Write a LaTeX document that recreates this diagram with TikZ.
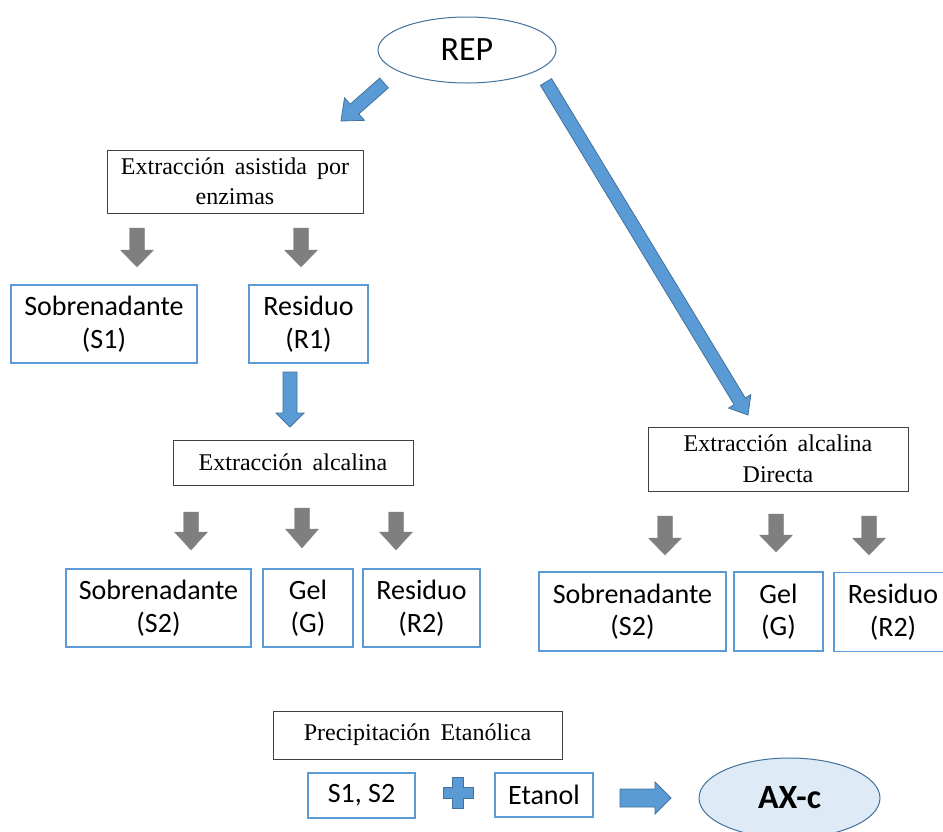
\documentclass[tikz,border=0pt]{standalone}
\usepackage{fontspec}
\setmainfont{Liberation Serif}
\newfontfamily\calib{Carlito}
\usetikzlibrary{calc,shapes.geometric}
\definecolor{ablue}{RGB}{91,155,213}
\definecolor{ablueline}{RGB}{65,113,156}
\definecolor{agray}{RGB}{127,127,127}
\definecolor{axfill}{RGB}{222,235,247}
\definecolor{boxline}{RGB}{64,64,64}
\newcommand{\widesp}{\spaceskip=0.42em\relax}
\newcommand{\blockarrow}[6]{%
  \coordinate (ba-h) at ($(#3)!#6!(#2)$);
  \path[#1] ($(#2)!#4!90:(#3)$) -- ($(ba-h)!#4!90:(#3)$) -- ($(ba-h)!#5!90:(#3)$) -- (#3)
    -- ($(ba-h)!#5!-90:(#3)$) -- ($(ba-h)!#4!-90:(#3)$) -- ($(#2)!#4!-90:(#3)$) -- cycle;}
\tikzset{
  bluebox/.style={draw=ablue, line width=1.3pt, rectangle, inner sep=0pt, align=center,
    font=\calib\fontsize{28}{32.5}\selectfont, text=black},
  serifbox/.style={draw=boxline, line width=0.9pt, rectangle, inner sep=0pt, align=center,
    font=\fontsize{24}{30.5}\selectfont\widesp, text=black},
  bluearrow/.style={fill=ablue, draw=ablueline, line width=0.8pt, line join=miter},
  grayarrow/.style={fill=agray, draw=agray, line width=0.3pt, line join=miter},
  ovalnode/.style={ellipse, draw=ablueline, line width=1pt, inner sep=0pt},
}
\begin{document}
\begin{tikzpicture}[x=1pt,y=-1pt]
\useasboundingbox (0,0) rectangle (943,831);
\clip (0,0) rectangle (943,831);
\fill[white] (0,0) rectangle (943,831);

% ovals
\node[ovalnode, fill=white, minimum width=178pt, minimum height=66pt,
  font=\calib\fontsize{34}{40}\selectfont] (rep) at (467,50) {REP};
\node[ovalnode, fill=axfill, minimum width=181pt, minimum height=80pt,
  font=\calib\bfseries\fontsize{34}{40}\selectfont] (axc) at (789.5,798) {AX-c};

% serif boxes
\node[serifbox, minimum width=256pt, minimum height=63pt] (eae) at (235,181.5)
  {Extracci\'on asistida por\\enzimas};
\node[serifbox, minimum width=240pt, minimum height=45pt] (ea) at (293,462.5)
  {Extracci\'on alcalina};
\node[serifbox, minimum width=260pt, minimum height=64pt] (ead) at (778,459)
  {Extracci\'on alcalina\\Directa};
\node[serifbox, minimum width=289pt, minimum height=48pt] (pe) at (417.5,735)
  {Precipitaci\'on Etan\'olica};

% blue boxes
\node[bluebox, minimum width=186pt, minimum height=78pt] (s1) at (104,324) {Sobrenadante\\(S1)};
\node[bluebox, minimum width=119pt, minimum height=78pt] (r1) at (308.5,324) {Residuo\\(R1)};
\node[bluebox, minimum width=185pt, minimum height=78pt] (s2a) at (158.5,608) {Sobrenadante\\(S2)};
\node[bluebox, minimum width=90pt, minimum height=78pt] (ga) at (308,608) {Gel\\(G)};
\node[bluebox, minimum width=117pt, minimum height=78pt] (r2a) at (421.5,608) {Residuo\\(R2)};
\node[bluebox, minimum width=187pt, minimum height=79pt] (s2b) at (632.5,611.5) {Sobrenadante\\(S2)};
\node[bluebox, minimum width=89pt, minimum height=79pt] (gb) at (778.5,611.5) {Gel\\(G)};
\node[bluebox, minimum width=118pt, minimum height=79pt] (r2b) at (893,612) {Residuo\\(R2)};
\node[bluebox, minimum width=107pt, minimum height=45pt] (s12) at (361.5,795.5) {S1, S2};
\node[bluebox, minimum width=98pt, minimum height=44pt] (et) at (544,795) {Etanol};

% arrow end points
\coordinate (d1s) at (384,83);   \coordinate (d1e) at (341,121);
\coordinate (d2s) at (546,82);   \coordinate (d2e) at (748,415);
\coordinate (v1s) at (290,372);  \coordinate (v1e) at (290,427);
\coordinate (h1s) at (620,798);  \coordinate (h1e) at (671,798);
\coordinate (g1s) at (137,228);  \coordinate (g1e) at (137,267);
\coordinate (g2s) at (301,228);  \coordinate (g2e) at (301,267);
\coordinate (g3s) at (191,512);  \coordinate (g3e) at (191,550);
\coordinate (g4s) at (302,508);  \coordinate (g4e) at (302,548);
\coordinate (g5s) at (396,512);  \coordinate (g5e) at (396,550);
\coordinate (g6s) at (665,516);  \coordinate (g6e) at (665,555);
\coordinate (g7s) at (776,514);  \coordinate (g7e) at (776,552);
\coordinate (g8s) at (869,516);  \coordinate (g8e) at (869,555);

% blue arrows
\blockarrow{bluearrow}{d1s}{d1e}{6.5pt}{15pt}{18pt}
\blockarrow{bluearrow}{d2s}{d2e}{6.5pt}{13pt}{16pt}
\blockarrow{bluearrow}{v1s}{v1e}{7pt}{14pt}{14pt}
\blockarrow{bluearrow}{h1s}{h1e}{9pt}{16pt}{16pt}

% gray arrows
\blockarrow{grayarrow}{g1s}{g1e}{7.5pt}{16.5pt}{17pt}
\blockarrow{grayarrow}{g2s}{g2e}{7.5pt}{16.5pt}{17pt}
\blockarrow{grayarrow}{g3s}{g3e}{7.5pt}{16.5pt}{18pt}
\blockarrow{grayarrow}{g4s}{g4e}{7.5pt}{16.5pt}{19pt}
\blockarrow{grayarrow}{g5s}{g5e}{7.5pt}{16.5pt}{18pt}
\blockarrow{grayarrow}{g6s}{g6e}{7.5pt}{16.5pt}{17pt}
\blockarrow{grayarrow}{g7s}{g7e}{7.5pt}{16.5pt}{17pt}
\blockarrow{grayarrow}{g8s}{g8e}{7.5pt}{16.5pt}{17pt}

% plus sign
\path[bluearrow, shift={(458,793)}] (-5.5,-15.5) -- (5.5,-15.5) -- (5.5,-5.5) -- (15,-5.5)
  -- (15,5.5) -- (5.5,5.5) -- (5.5,15.5) -- (-5.5,15.5) -- (-5.5,5.5) -- (-15,5.5)
  -- (-15,-5.5) -- (-5.5,-5.5) -- cycle;
\end{tikzpicture}
\end{document}
